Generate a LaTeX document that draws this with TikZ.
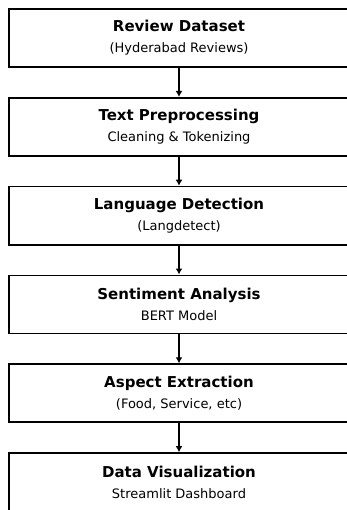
\documentclass[tikz,border=0pt]{standalone}
\usepackage{fontspec}
\setmainfont{DejaVu Sans}
\usetikzlibrary{positioning}
\usetikzlibrary{arrows.meta}
\tikzset{>={Latex[length=6pt,width=7pt]}}
\tikzstyle{box} = [draw, line width=1.8pt, minimum width=340pt, minimum height=58pt, inner sep=0pt, align=center, font=\fontsize{13}{21}\selectfont]
\tikzstyle{arrow} = [line width=1.4pt,->]
\newcommand{\steptitle}[1]{{\fontsize{15}{21}\selectfont\bfseries #1}}

\begin{document}
\begin{tikzpicture}[node distance=29pt]
\useasboundingbox (0,0) rectangle (347pt,-510pt);
\node[box] (data) at (179pt,-38pt) {\steptitle{Review Dataset}\\(Hyderabad Reviews)};
\node[box, below=of data] (prep) {\steptitle{Text Preprocessing}\\Cleaning \& Tokenizing};
\node[box, below=of prep] (lang) {\steptitle{Language Detection}\\(Langdetect)};
\node[box, below=of lang] (sent) {\steptitle{Sentiment Analysis}\\BERT Model};
\node[box, below=of sent] (aspect) {\steptitle{Aspect Extraction}\\(Food, Service, etc)};
\node[box, below=of aspect] (vis) {\steptitle{Data Visualization}\\Streamlit Dashboard};
\foreach \a/\b in {data/prep,prep/lang,lang/sent,sent/aspect,aspect/vis}
  \draw[arrow] (\a) -- (\b);
\end{tikzpicture}
\end{document}
